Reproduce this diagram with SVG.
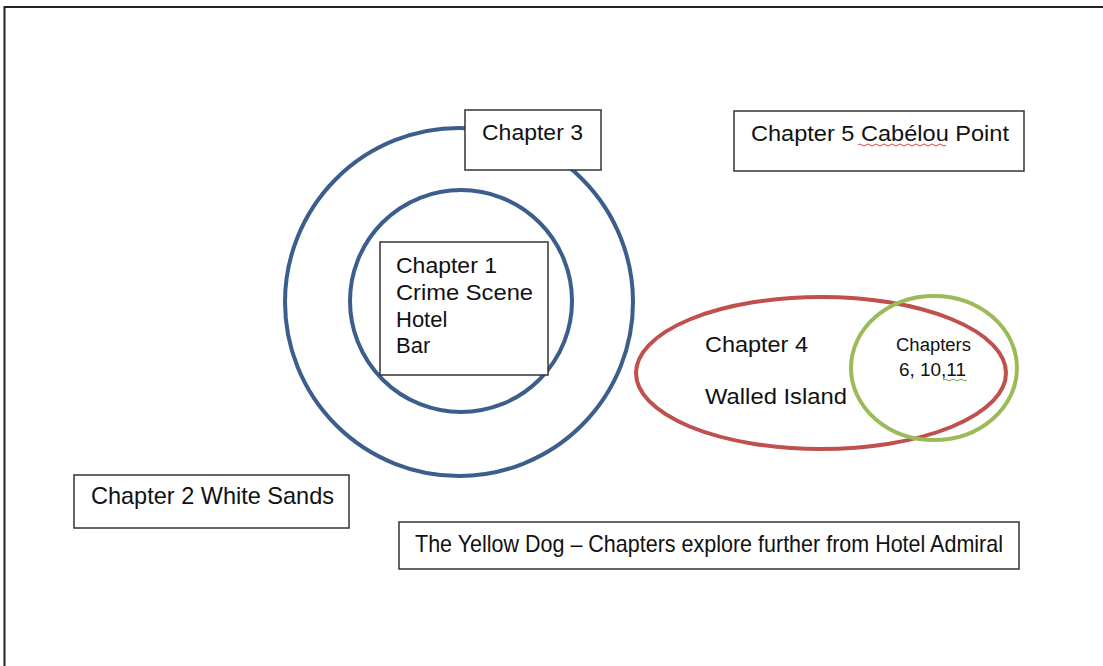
<svg xmlns="http://www.w3.org/2000/svg" width="1103" height="666" viewBox="0 0 1103 666">
  <style>
    .box { fill: #ffffff; stroke: #333333; stroke-width: 1.5; }
    .lbl { font-family: "Liberation Sans", Arial, sans-serif; font-size: 22px; fill: #111111; }
    .small { font-size: 18px; }
    .tall { font-size: 24px; }
    .ring { fill: none; stroke: #3B5E8C; stroke-width: 4; }
    .squig { fill: none; stroke-width: 1; }
  </style>
  <rect width="1103" height="666" fill="#ffffff"/>
  <!-- page frame -->
  <rect x="4.5" y="7" width="1110" height="680" fill="none" stroke="#222222" stroke-width="2"/>

  <!-- concentric rings around the hotel -->
  <g id="rings">
    <circle class="ring" cx="459" cy="302" r="174"/>
    <circle class="ring" cx="461" cy="301" r="111"/>
  </g>

  <!-- island ellipse and later chapters circle -->
  <g id="chapter4">
    <ellipse cx="821" cy="373" rx="185" ry="76" fill="none" stroke="#C0504D" stroke-width="4"/>
    <text class="lbl" x="705" y="352" textLength="103" lengthAdjust="spacingAndGlyphs">Chapter 4</text>
    <text class="lbl" x="705" y="404" textLength="142" lengthAdjust="spacingAndGlyphs">Walled Island</text>
  </g>
  <g id="chapters-6-10-11">
    <ellipse cx="934" cy="368" rx="83" ry="72" fill="none" stroke="#9BBB59" stroke-width="4"/>
    <text class="lbl small" x="896" y="351" textLength="75" lengthAdjust="spacingAndGlyphs">Chapters</text>
    <text class="lbl small" x="899" y="376" textLength="67" lengthAdjust="spacingAndGlyphs">6, 10,11</text>
    <path class="squig" stroke="#6AAF3A" d="M943 380 q2 -2 4 0 t4 0 t4 0 t4 0 t4 0 t4 0"/>
  </g>

  <g id="chapter3">
    <rect class="box" x="465" y="110" width="136" height="60"/>
    <text class="lbl" x="482" y="140" textLength="101" lengthAdjust="spacingAndGlyphs">Chapter 3</text>
  </g>

  <g id="chapter1">
    <rect class="box" x="380" y="242" width="168" height="133"/>
    <text class="lbl" x="396" y="273" textLength="101" lengthAdjust="spacingAndGlyphs">Chapter 1</text>
    <text class="lbl" x="396" y="300" textLength="137" lengthAdjust="spacingAndGlyphs">Crime Scene</text>
    <text class="lbl" x="396" y="327">Hotel</text>
    <text class="lbl" x="396" y="353">Bar</text>
  </g>

  <g id="chapter5">
    <rect class="box" x="734" y="111" width="290" height="60"/>
    <text class="lbl" x="751" y="141" textLength="258" lengthAdjust="spacingAndGlyphs">Chapter 5 Cabélou Point</text>
    <path class="squig" stroke="#E04040" d="M858 145 q2 -2 4 0 t4 0 t4 0 t4 0 t4 0 t4 0 t4 0 t4 0 t4 0 t4 0 t4 0 t4 0 t4 0 t4 0 t4 0 t4 0 t4 0 t4 0 t4 0 t4 0 t4 0 t4 0"/>
  </g>

  <g id="chapter2">
    <rect class="box" x="74" y="475" width="275" height="53"/>
    <text class="lbl tall" x="91" y="504" textLength="243" lengthAdjust="spacingAndGlyphs">Chapter 2 White Sands</text>
  </g>

  <g id="caption">
    <rect class="box" x="399" y="522" width="620" height="47"/>
    <text class="lbl tall" x="415" y="552" textLength="588" lengthAdjust="spacingAndGlyphs">The Yellow Dog – Chapters explore further from Hotel Admiral</text>
  </g>

  <g id="connectors"></g>
</svg>
